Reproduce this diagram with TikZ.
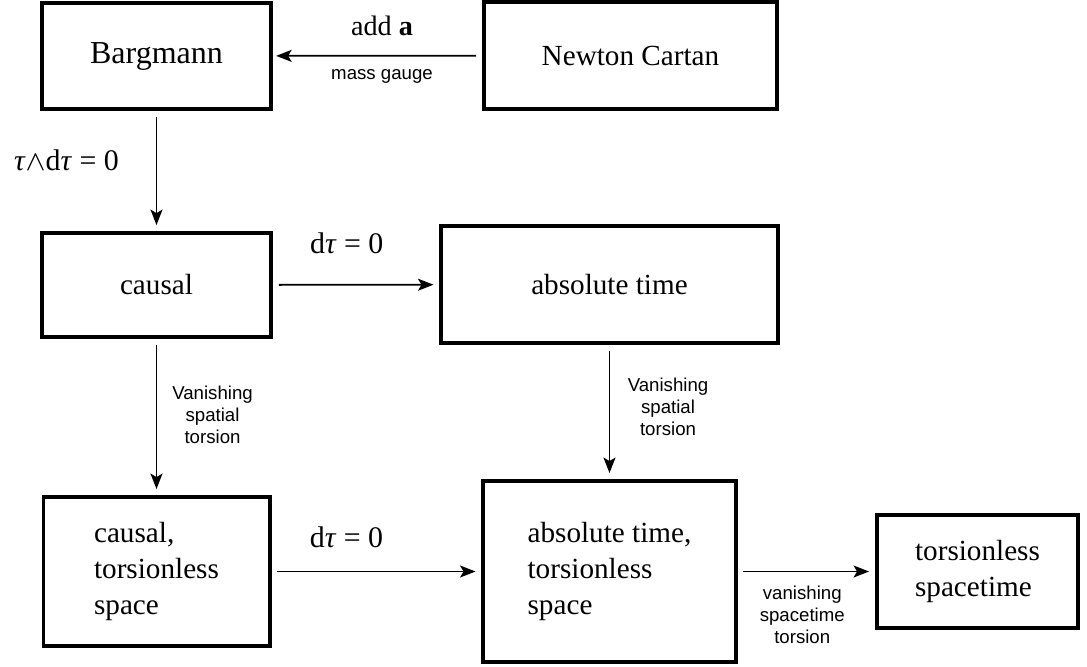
\documentclass[tikz,border=0pt]{standalone}
\usepackage{fontspec}
\setmainfont{Liberation Serif}
\newfontfamily\labelfont{Liberation Sans}
\usetikzlibrary{arrows.meta, positioning}

\newcommand{\tauit}{\textit{τ}}

\begin{document}
\begin{tikzpicture}[x=0.01cm, y=-0.01cm,
  >={Stealth[length=4.4pt, width=3.4pt, inset=1pt]},
  every node/.style={font=\fontsize{8.3}{10.3}\selectfont},
  frame/.style={draw, line width=1.1pt, inner sep=0pt, align=left},
  link/.style={->, line width=0.5pt, shorten <=1.7pt, shorten >=1.7pt},
  sanslabel/.style={font=\labelfont\fontsize{5.3}{6.3}\selectfont, align=center},
  mathlabel/.style={font=\fontsize{8.5}{10}\selectfont}]
  \useasboundingbox (0,0) rectangle (1087,666);

  % Boxes
  \node[frame, minimum width=2.29cm, minimum height=1.06cm, font=\fontsize{9.1}{11}\selectfont] (bargmann) at (156.5,56) {\raisebox{-0.5pt}{Bargmann}};
  \node[frame, minimum width=2.93cm, minimum height=1.07cm] (newton) at (630.5,55.5) {Newton Cartan};
  \node[frame, minimum width=2.29cm, minimum height=1.04cm] (causal) at (156.5,285) {causal};
  \node[frame, minimum width=3.36cm, minimum height=1.17cm] (abstime) at (609.5,284.5) {absolute time};
  \node[frame, minimum width=2.26cm, minimum height=1.49cm] (causaltl) at (156.5,571.5) {causal,\\torsionless\\space};
  \node[frame, minimum width=2.52cm, minimum height=1.81cm] (abstimetl) at (609.5,571.5) {absolute time,\\torsionless\\space};
  \node[frame, minimum width=2.01cm, minimum height=1.13cm] (tlspacetime) at (977.5,571.5) {torsionless\\spacetime};

  % Top row
  \draw[link, shorten >=0.9pt] (newton) -- (bargmann)
    node[midway, mathlabel, font=\fontsize{8}{10}\selectfont, xshift=0.045cm, yshift=0.3cm] {add \textbf{a}}
    node[midway, sanslabel, xshift=0.045cm, yshift=-0.21cm] {mass gauge};

  % Left column
  \draw[link] (bargmann) -- (causal)
    node[midway, mathlabel, xshift=-0.9cm, yshift=0.11cm] {\tauit$\wedge$d\tauit\ = 0};
  \draw[link] (causal) -- (causaltl)
    node[midway, sanslabel, xshift=0.56cm, yshift=0.02cm] {Vanishing\\spatial\\torsion};

  % Middle row
  \draw[link] (causal) -- (abstime)
    node[midway, mathlabel, xshift=-0.095cm, yshift=0.41cm] {d\tauit\ = 0};
  \draw[link] (abstime) -- (abstimetl)
    node[midway, sanslabel, xshift=0.585cm, yshift=0.05cm] {Vanishing\\spatial\\torsion};

  % Bottom row
  \draw[link] (causaltl) -- (abstimetl)
    node[midway, mathlabel, xshift=-0.3cm, yshift=0.34cm] {d\tauit\ = 0};
  \draw[link] (abstimetl) -- (tlspacetime)
    node[midway, sanslabel, xshift=-0.04cm, yshift=-0.43cm] {vanishing\\spacetime\\torsion};
\end{tikzpicture}
\end{document}
